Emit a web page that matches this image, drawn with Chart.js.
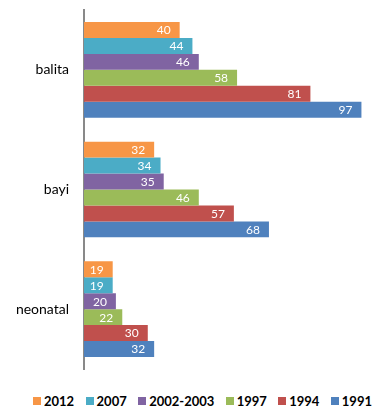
<!DOCTYPE html>
<html>
<head>
<meta charset="utf-8">
<script src="https://cdn.jsdelivr.net/npm/chart.js@4"></script>
<style>
  body { margin: 0; background: #fff; }
  #wrap { position: relative; width: 380px; height: 409px; overflow: hidden; }
  #chart { position: absolute; left: 0; top: 0; }
  #legend {
    position: absolute; left: 33px; top: 393px; width: 339px;
    display: flex; align-items: center; justify-content: space-between;
    font: bold 13px Lato, sans-serif; color: #000; white-space: nowrap;
  }
  #legend .item { display: flex; align-items: center; }
  #legend .box { width: 8px; height: 8px; margin-right: 3px; }
</style>
</head>
<body>
<div id="wrap">
  <canvas id="chart" width="380" height="380"></canvas>
  <div id="legend"></div>
</div>
<script>
// Categories and series (per survey year)
const categories = ['balita', 'bayi', 'neonatal'];
const years = ['2012', '2007', '2002-2003', '1997', '1994', '1991'];
const colors = ['#F79646', '#4BACC6', '#8064A2', '#9BBB59', '#C0504D', '#4F81BD'];

const v2012 = [40, 32, 19];
const v2007 = [44, 34, 19];
const v2002 = [46, 35, 20];
const v1997 = [58, 46, 22];
const v1994 = [81, 57, 30];
const v1991 = [97, 68, 32];
const seriesValues = [v2012, v2007, v2002, v1997, v1994, v1991];

// Writes each value inside the end of its bar
const barLabels = {
  id: 'barLabels',
  afterDatasetsDraw(chart) {
    const ctx = chart.ctx;
    ctx.save();
    ctx.font = '12px Lato, sans-serif';
    ctx.fillStyle = '#fff';
    ctx.textAlign = 'right';
    ctx.textBaseline = 'middle';
    chart.data.datasets.forEach((ds, i) => {
      chart.getDatasetMeta(i).data.forEach((bar, j) => {
        ctx.fillText(ds.data[j], bar.x - 9, bar.y + 0.5);
      });
    });
    ctx.restore();
  }
};

const datasets = years.map((year, i) => ({
  label: year,
  data: seriesValues[i],
  backgroundColor: colors[i],
  borderWidth: 0,
  categoryPercentage: 0.8,
  barPercentage: 1.0
}));

new Chart(document.getElementById('chart'), {
  type: 'bar',
  data: { labels: categories, datasets: datasets },
  plugins: [barLabels],
  options: {
    indexAxis: 'y',
    responsive: false,
    animation: false,
    layout: { padding: { top: 10, right: 9, bottom: 11, left: 0 } },
    plugins: {
      legend: { display: false },
      tooltip: { enabled: false }
    },
    scales: {
      x: { display: false, min: 10, max: 100 },
      y: {
        grid: { display: false, drawTicks: false },
        border: { display: true, color: '#898989', width: 2 },
        ticks: { color: '#000', padding: 15, font: { family: 'Lato', size: 14 } },
        afterFit(scale) {
          // fixed axis width, and no extra room above/below for the tick padding
          scale.width = 84;
          scale.paddingTop = 0;
          scale.paddingBottom = 0;
        }
      }
    }
  }
});

// Simple legend row under the chart
const legend = document.getElementById('legend');
years.forEach((year, i) => {
  const item = document.createElement('span');
  item.className = 'item';
  item.innerHTML = '<span class="box" style="background:' + colors[i] + '"></span>' + year;
  legend.appendChild(item);
});
</script>
</body>
</html>
